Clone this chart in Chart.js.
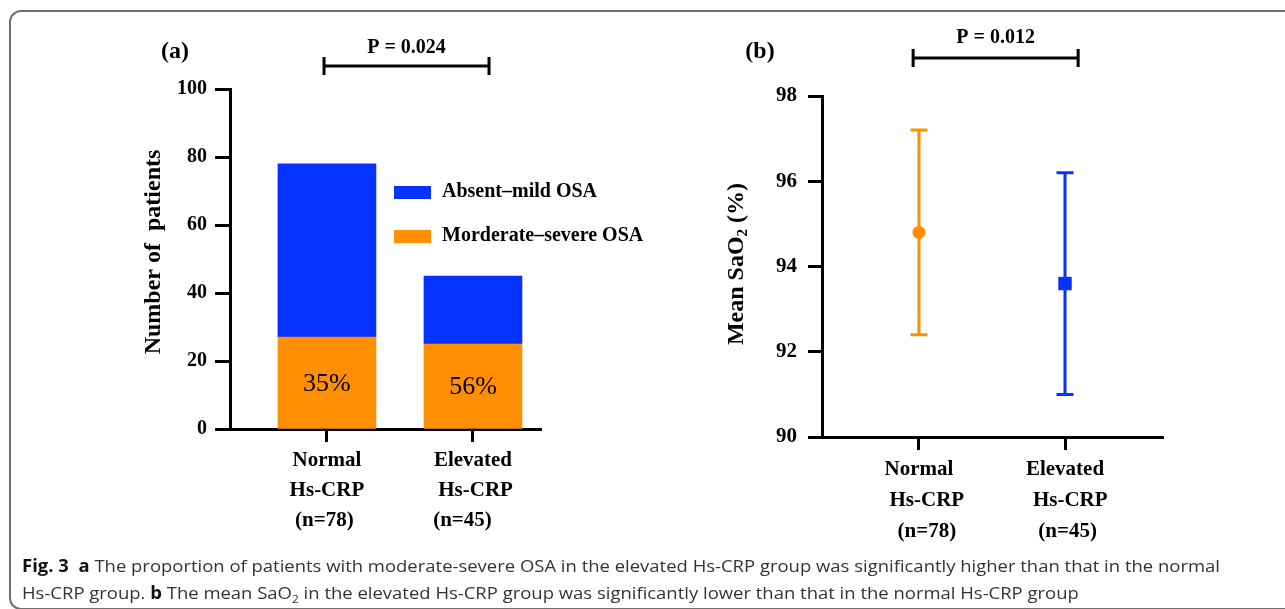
<!DOCTYPE html>
<html>
<head>
<meta charset="utf-8">
<script src="https://cdn.jsdelivr.net/npm/chart.js@4.4.1/dist/chart.umd.min.js"></script>
<style>
  body { margin: 0; background: #fff; width: 1285px; height: 609px; overflow: hidden; position: relative; }
  canvas { position: absolute; left: 0; top: 0; }
  #frame { position: absolute; left: 9px; top: 10px; width: 1320px; height: 600px; border: 2px solid #707070; border-radius: 12px; box-sizing: border-box; }
  #caption { position: absolute; left: 22px; top: 552px; font-family: 'Open Sans', 'Noto Sans', sans-serif; font-size: 17px; line-height: 27px; color: #333; transform-origin: 0 0; white-space: nowrap; }
  #caption div { display: inline-block; }
  #caption b { color: #111; }
  #caption sub { font-size: 11px; line-height: 0; }
</style>
</head>
<body>
<div id="frame"></div>
<canvas id="chartA" width="1285" height="609"></canvas>
<canvas id="chartB" width="1285" height="609"></canvas>
<div id="caption">
  <div id="capLine1"><b>Fig. 3</b>&nbsp;&nbsp;<b>a</b> The proportion of patients with moderate-severe OSA in the elevated Hs-CRP group was significantly higher than that in the normal</div><br>
  <div>Hs-CRP group. <b>b</b> The mean SaO<sub>2</sub> in the elevated Hs-CRP group was significantly lower than that in the normal Hs-CRP group</div>
</div>
<script>
// values
const tickLabelsA = [['Normal', 'Hs-CRP', '(n=78) '], ['Elevated', ' Hs-CRP', '(n=45)    ']];
const tickLabelsB = [['Normal', '   Hs-CRP', '   (n=78)'], ['Elevated', '  Hs-CRP', ' (n=45)']];
const seriesNames = ['Morderate–severe OSA', 'Absent–mild OSA'];
const moderateSevere = [27, 25];
const absentMild = [51, 20];
const countTicks = [0, 20, 40, 60, 80, 100];
const sao2Mean = [94.8, 93.6];
const sao2Sd = [2.4, 2.6];
const sao2Ticks = [90, 92, 94, 96, 98];
const pValues = ['P = 0.024', 'P = 0.012'];

const ORANGE = '#FF8F00';
const BLUE = '#0433FF';
const SERIF = "'Liberation Serif', 'Times New Roman', serif";

Chart.defaults.font.family = SERIF;
Chart.defaults.color = '#000';

function axisStyle(tickLen) {
    return {
        offset: false,
        grid: { display: true, offset: false, drawOnChartArea: false, drawTicks: true, tickLength: tickLen, tickWidth: 3, tickColor: '#000' },
        border: { display: true, color: '#000', width: 3 }
    };
}

function drawRotated(ctx, x, y, parts) {
    ctx.save();
    ctx.translate(x, y);
    ctx.rotate(-Math.PI / 2);
    ctx.textAlign = 'left';
    ctx.textBaseline = 'middle';
    let total = 0;
    parts.forEach(p => { ctx.font = p.font; p.w = ctx.measureText(p.text).width; total += p.w; });
    let cx = -total / 2;
    parts.forEach(p => {
        ctx.font = p.font;
        ctx.fillText(p.text, cx, p.dy || 0);
        cx += p.w;
    });
    ctx.restore();
}

function drawBracket(ctx, x1, x2, y, label, textY) {
    ctx.save();
    ctx.strokeStyle = '#000';
    ctx.lineWidth = 3;
    ctx.beginPath();
    ctx.moveTo(x1, y); ctx.lineTo(x2, y);
    ctx.moveTo(x1, y - 9); ctx.lineTo(x1, y + 9);
    ctx.moveTo(x2, y - 9); ctx.lineTo(x2, y + 9);
    ctx.stroke();
    ctx.fillStyle = '#000';
    ctx.font = 'bold 20px ' + SERIF;
    ctx.textAlign = 'center';
    ctx.textBaseline = 'middle';
    ctx.fillText(label, (x1 + x2) / 2, textY);
    ctx.restore();
}

// ---------- panel (a) ----------
const annotateA = {
    id: 'annotateA',
    afterDraw(chart) {
        const ctx = chart.ctx;
        const xs = chart.scales.x;
        ctx.save();
        ctx.fillStyle = '#000';
        ctx.textAlign = 'center';
        ctx.textBaseline = 'middle';
        ctx.font = 'bold 24px ' + SERIF;
        ctx.fillText('(a)', 175, 52);
        drawRotated(ctx, 154, 252, [{ text: 'Number of  patients', font: 'bold 24px ' + SERIF }]);

        drawBracket(ctx, xs.getPixelForValue(-0.02), xs.getPixelForValue(1.11), 66, pValues[0], 48);

        // percentages inside the orange segments
        ctx.font = '26px ' + SERIF;
        chart.getDatasetMeta(0).data.forEach((el, i) => {
            const pct = Math.round(moderateSevere[i] / (moderateSevere[i] + absentMild[i]) * 100);
            ctx.fillText(pct + '%', el.x, (el.y + el.base) / 2 + 1);
        });

        // legend
        const items = [[BLUE, seriesNames[1]], [ORANGE, seriesNames[0]]];
        ctx.textAlign = 'left';
        ctx.font = 'bold 20px ' + SERIF;
        items.forEach((it, i) => {
            const y = 186 + i * 44;
            ctx.fillStyle = it[0];
            ctx.fillRect(394, y, 37, 13);
            ctx.fillStyle = '#000';
            ctx.fillText(it[1], 442, y + 6);
        });
        ctx.restore();
    }
};

new Chart(document.getElementById('chartA'), {
    type: 'bar',
    data: {
        datasets: [
            { label: seriesNames[0], data: moderateSevere.map((v, i) => ({ x: i, y: v })), backgroundColor: ORANGE },
            { label: seriesNames[1], data: absentMild.map((v, i) => ({ x: i, y: v })), backgroundColor: BLUE }
        ]
    },
    options: {
        responsive: false,
        animation: false,
        events: [],
        layout: { autoPadding: false, padding: { left: 0, top: 89, right: 744, bottom: 60 } },
        datasets: { bar: { barThickness: 98, grouped: false, borderWidth: 0 } },
        plugins: { legend: { display: false }, tooltip: { enabled: false } },
        scales: {
            x: Object.assign(axisStyle(13), {
                type: 'linear', min: -0.664, max: 1.466,
                afterBuildTicks: s => { s.ticks = tickLabelsA.map((l, i) => ({ value: i })); },
                afterFit: s => { s.height = 120; },
                ticks: { padding: 4, autoSkip: false, maxRotation: 0, font: { size: 21, weight: 'bold', lineHeight: 1.43 }, callback: v => tickLabelsA[v] }
            }),
            y: Object.assign(axisStyle(15), {
                stacked: true, min: countTicks[0], max: countTicks[countTicks.length - 1],
                afterBuildTicks: s => { s.ticks = countTicks.map(v => ({ value: v })); },
                afterFit: s => { s.width = 230; },
                ticks: { padding: 8, font: { size: 20, weight: 'bold' } }
            })
        }
    },
    plugins: [annotateA]
});

// ---------- panel (b) ----------
const errorBarsB = {
    id: 'errorBarsB',
    beforeDatasetsDraw(chart) {
        const ctx = chart.ctx;
        const xs = chart.scales.x, ys = chart.scales.y;
        const colors = [ORANGE, BLUE];
        ctx.save();
        ctx.lineWidth = 3;
        sao2Mean.forEach((m, i) => {
            const x = xs.getPixelForValue(i);
            const top = ys.getPixelForValue(m + sao2Sd[i]);
            const bot = ys.getPixelForValue(m - sao2Sd[i]);
            ctx.strokeStyle = colors[i];
            ctx.beginPath();
            ctx.moveTo(x, top); ctx.lineTo(x, bot);
            ctx.moveTo(x - 8.5, top); ctx.lineTo(x + 8.5, top);
            ctx.moveTo(x - 8.5, bot); ctx.lineTo(x + 8.5, bot);
            ctx.stroke();
        });
        ctx.restore();
    },
    afterDraw(chart) {
        const ctx = chart.ctx;
        const xs = chart.scales.x;
        ctx.save();
        ctx.fillStyle = '#000';
        ctx.textAlign = 'center';
        ctx.textBaseline = 'middle';
        ctx.font = 'bold 24px ' + SERIF;
        ctx.fillText('(b)', 760, 52);
        drawRotated(ctx, 737, 264, [
            { text: 'Mean SaO', font: 'bold 24px ' + SERIF },
            { text: '2', font: 'bold 15px ' + SERIF, dy: 6 },
            { text: ' (%)', font: 'bold 24px ' + SERIF }
        ]);
        drawBracket(ctx, xs.getPixelForValue(-0.04), xs.getPixelForValue(1.09), 58, pValues[1], 38);
        ctx.restore();
    }
};

new Chart(document.getElementById('chartB'), {
    type: 'scatter',
    data: {
        datasets: [{
            label: 'Mean SaO2',
            data: sao2Mean.map((v, i) => ({ x: i, y: v })),
            pointStyle: ['circle', 'rect'],
            pointRadius: [6.5, 9.5],
            pointBackgroundColor: [ORANGE, BLUE],
            pointBorderWidth: 0
        }]
    },
    options: {
        responsive: false,
        animation: false,
        events: [],
        layout: { autoPadding: false, padding: { left: 700, top: 96, right: 122, bottom: 52 } },
        plugins: { legend: { display: false }, tooltip: { enabled: false } },
        scales: {
            x: Object.assign(axisStyle(13), {
                type: 'linear', min: -0.664, max: 1.671,
                afterBuildTicks: s => { s.ticks = tickLabelsB.map((l, i) => ({ value: i })); },
                afterFit: s => { s.height = 120; },
                ticks: { padding: 4, autoSkip: false, maxRotation: 0, font: { size: 21, weight: 'bold', lineHeight: 1.48 }, callback: v => tickLabelsB[v] }
            }),
            y: Object.assign(axisStyle(14), {
                min: sao2Ticks[0], max: sao2Ticks[sao2Ticks.length - 1],
                afterBuildTicks: s => { s.ticks = sao2Ticks.map(v => ({ value: v })); },
                afterFit: s => { s.width = 122; },
                ticks: { padding: 11, font: { size: 21, weight: 'bold' } }
            })
        }
    },
    plugins: [errorBarsB]
});

// squeeze the caption to the width of the original line
const capW = document.getElementById('capLine1').offsetWidth;
document.getElementById('caption').style.transform = 'scaleX(' + (1198 / capW) + ')';
</script>
</body>
</html>
